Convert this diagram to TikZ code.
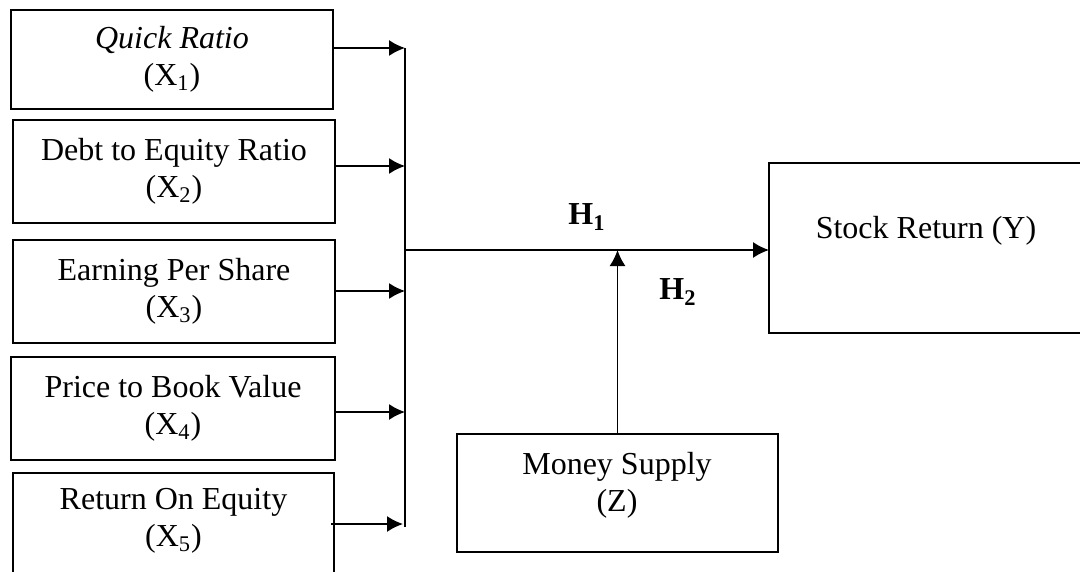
\documentclass[tikz,border=0pt]{standalone}
\usepackage{fontspec}
\setmainfont{Liberation Serif}
\usetikzlibrary{arrows.meta}
\begin{document}
\begin{tikzpicture}[x=0.5pt,y=-0.5pt,
  box/.style={draw,line width=1pt,inner sep=0pt,outer sep=0pt,align=center,
    font=\fontsize{16}{18.5}\selectfont},
  txt/.style={inner sep=0pt,align=center,font=\fontsize{16}{18.5}\selectfont},
  hlab/.style={inner sep=0pt,font=\fontsize{16}{18}\selectfont\bfseries},
  arr/.style={line width=0.8pt,-{Latex[length=8pt,width=8pt]}},
  conn/.style={line width=0.8pt}]
\useasboundingbox (0,0) rectangle (1080,572);
\clip (0,0) rectangle (1080,572);
% left boxes
\node[box,minimum width=161pt,minimum height=49.5pt] (x1) at (172,59.5) {\textit{Quick Ratio}\\(X\textsubscript{1})};
\node[box,minimum width=161pt,minimum height=51.5pt] (x2) at (174,171.5) {Debt to Equity Ratio\\(X\textsubscript{2})};
\node[box,minimum width=161pt,minimum height=51.5pt] (x3) at (174,291.5) {Earning Per Share\\(X\textsubscript{3})};
\node[box,minimum width=162pt,minimum height=51.5pt] (x4) at (173,408.5) {Price to Book Value\\(X\textsubscript{4})};
\node[box,minimum width=160.5pt,minimum height=73.5pt] (x5) at (173.5,546.5) {};
\node[txt] (x5t) at (173.5,521) {Return On Equity\\(X\textsubscript{5})};
% right box
\node[box,minimum width=160.5pt,minimum height=85pt] (y) at (929.5,248) {};
\node[txt] (yt) at (926,231) {Stock Return (Y)};
% moderator box
\node[box,minimum width=160.5pt,minimum height=59pt] (z) at (617.5,493) {};
\node[txt] (zt) at (617,485) {Money Supply\\(Z)};
% bus
\coordinate (b1) at (405,48);
\coordinate (b2) at (405,166);
\coordinate (b3) at (405,291);
\coordinate (b4) at (405,412);
\coordinate (b5) at (403,524);
\coordinate (bb) at (405,527);
\coordinate (hj) at (405,250);
\draw[conn] (b1) -- (bb);
\draw[arr] (x1.east |- b1) -- (b1);
\draw[arr] (x2.east |- b2) -- (b2);
\draw[arr] (x3.east |- b3) -- (b3);
\draw[arr] (x4.east |- b4) -- (b4);
\draw[arr] ([xshift=-1.5pt]x5.east |- b5) -- (b5);
\draw[arr] (hj) -- (y.west |- hj);
\draw[arr] (z.north) -- (z.north |- hj);
% labels
\node[hlab] (h1) at (587,217) {H\textsubscript{1}};
\node[hlab] (h2) at (678,292) {H\textsubscript{2}};
\end{tikzpicture}
\end{document}
